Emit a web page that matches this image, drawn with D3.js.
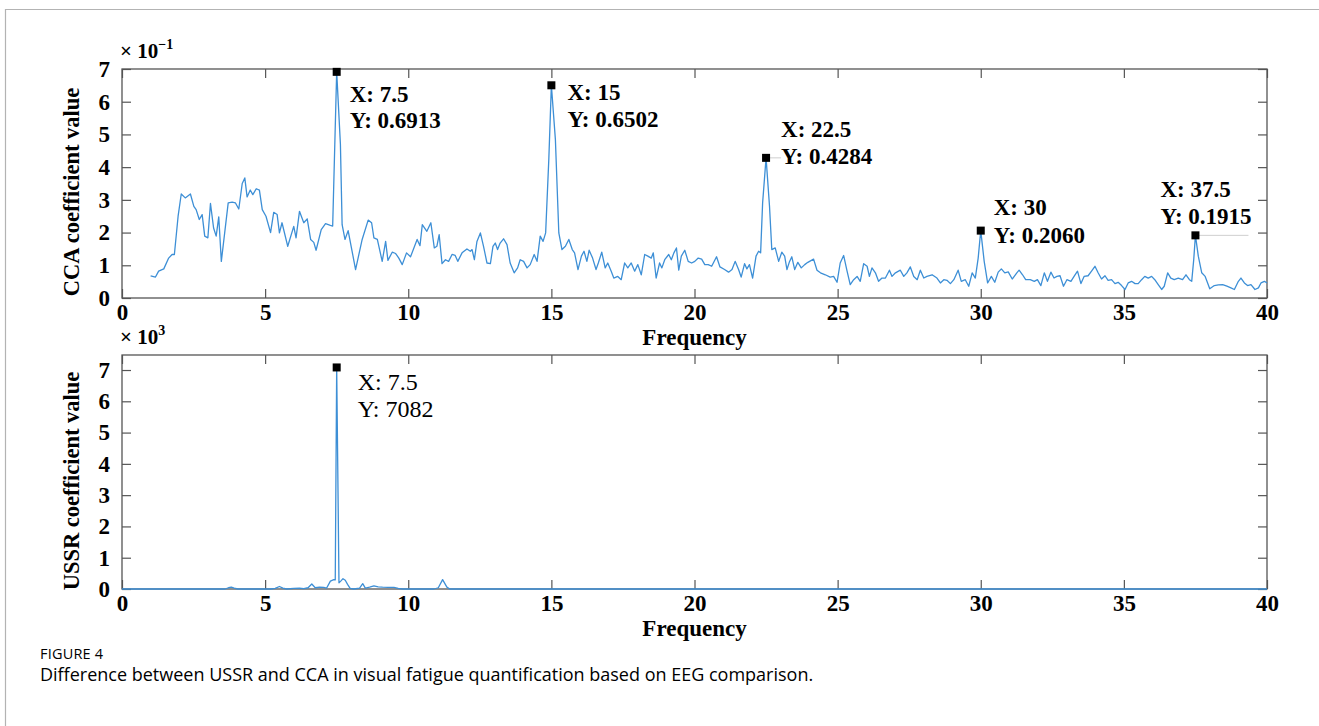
<!DOCTYPE html>
<html>
<head>
<meta charset="utf-8">
<title>USSR vs CCA</title>
<script src="https://d3js.org/d3.v7.min.js"></script>
<style>
  body { margin: 0; background: #fff; }
  svg text { font-family: "Liberation Serif", "Times New Roman", serif; fill: #000; }
  .tick text { font-size: 23px; font-weight: bold; }
  .tick line { stroke: #555; stroke-width: 1.2; }
  .caption text { font-family: "Open Sans", "Noto Sans", sans-serif; }
</style>
</head>
<body>
<svg id="chart" width="1319" height="726"></svg>
<script>
// ---- data ----
const xTicks = [0, 5, 10, 15, 20, 25, 30, 35, 40];
const ccaTicks = [0, 1, 2, 3, 4, 5, 6, 7];              // x 10^-1
const ussrTicks = [0, 1000, 2000, 3000, 4000, 5000, 6000, 7000];

// CCA coefficient (in units of 10^-1) vs frequency
const ccaFreq = [1.0, 1.17, 1.28, 1.46, 1.63, 1.75, 1.83, 1.96, 2.07, 2.21, 2.39, 2.51, 2.59, 2.7, 2.8, 2.89, 3.0, 3.09, 3.2, 3.29,
  3.38, 3.47, 3.71, 3.85, 3.96, 4.08, 4.2, 4.29, 4.37, 4.48, 4.57, 4.69, 4.8, 4.9, 5.03, 5.19, 5.3, 5.42, 5.5, 5.59,
  5.79, 6.0, 6.08, 6.2, 6.35, 6.47, 6.59, 6.7, 6.78, 6.96, 7.11, 7.28, 7.36, 7.5, 7.63, 7.69, 7.79, 7.9, 8.16, 8.39,
  8.6, 8.72, 8.8, 8.92, 9.09, 9.21, 9.29, 9.44, 9.56, 9.67, 9.79, 9.94, 10.08, 10.31, 10.41, 10.49, 10.65, 10.79, 10.91, 11.0,
  11.08, 11.18, 11.3, 11.41, 11.53, 11.64, 11.73, 11.88, 12.05, 12.17, 12.23, 12.31, 12.4, 12.52, 12.63, 12.75, 12.87, 12.96, 13.04, 13.12,
  13.21, 13.33, 13.45, 13.56, 13.7, 13.82, 13.91, 14.03, 14.15, 14.26, 14.4, 14.5, 14.61, 14.71, 14.8, 14.91, 15.0, 15.14, 15.26, 15.37,
  15.49, 15.61, 15.73, 15.81, 15.93, 16.05, 16.14, 16.24, 16.32, 16.44, 16.56, 16.64, 16.76, 16.88, 16.97, 17.09, 17.18, 17.32, 17.44, 17.56,
  17.67, 17.79, 17.91, 18.02, 18.14, 18.26, 18.37, 18.49, 18.56, 18.66, 18.78, 18.86, 18.96, 19.1, 19.19, 19.28, 19.37, 19.45, 19.54, 19.66,
  19.78, 19.9, 20.01, 20.13, 20.25, 20.36, 20.48, 20.6, 20.77, 20.89, 21.05, 21.19, 21.31, 21.42, 21.54, 21.63, 21.75, 21.83, 21.92, 22.03,
  22.15, 22.24, 22.31, 22.38, 22.5, 22.62, 22.7, 22.82, 22.94, 23.05, 23.15, 23.23, 23.31, 23.4, 23.5, 23.61, 23.73, 23.85, 23.96, 24.16,
  24.28, 24.4, 24.57, 24.74, 24.86, 24.98, 25.09, 25.21, 25.33, 25.44, 25.56, 25.68, 25.79, 25.91, 26.03, 26.11, 26.2, 26.32, 26.43, 26.55,
  26.67, 26.81, 26.9, 27.02, 27.19, 27.31, 27.42, 27.54, 27.66, 27.78, 27.89, 28.01, 28.12, 28.3, 28.47, 28.59, 28.71, 28.82, 28.94, 29.06,
  29.21, 29.32, 29.46, 29.58, 29.7, 29.81, 29.91, 30.0, 30.12, 30.24, 30.37, 30.49, 30.61, 30.72, 30.84, 30.96, 31.1, 31.26, 31.34, 31.46,
  31.57, 31.73, 31.87, 31.98, 32.1, 32.22, 32.33, 32.45, 32.56, 32.66, 32.77, 32.89, 33.01, 33.15, 33.26, 33.38, 33.5, 33.61, 33.75, 33.87,
  33.99, 34.1, 34.22, 34.34, 34.45, 34.57, 34.69, 34.8, 34.92, 35.04, 35.15, 35.27, 35.39, 35.5, 35.62, 35.73, 35.85, 35.97, 36.08, 36.2,
  36.32, 36.41, 36.53, 36.64, 36.76, 36.9, 37.05, 37.17, 37.29, 37.37, 37.44, 37.5, 37.6, 37.72, 37.84, 38.0, 38.16, 38.3, 38.45, 38.6,
  38.74, 38.86, 39.0, 39.09, 39.21, 39.32, 39.44, 39.58, 39.7, 39.79, 39.91, 40.0];
const ccaVal = [0.68, 0.64, 0.82, 0.89, 1.22, 1.33, 1.33, 2.5, 3.18, 3.06, 3.18, 2.8, 2.7, 2.4, 2.55, 1.89, 1.84, 2.89, 2.14, 1.89,
  2.48, 1.12, 2.91, 2.93, 2.91, 2.72, 3.5, 3.67, 3.09, 3.3, 3.16, 3.34, 3.3, 2.7, 2.5, 2.0, 2.62, 2.55, 1.99, 2.3,
  1.58, 2.19, 1.84, 2.65, 2.3, 2.42, 1.79, 1.7, 1.46, 2.09, 2.27, 2.22, 2.2, 6.913, 4.7, 2.24, 1.79, 2.06, 0.87, 1.79,
  2.38, 2.3, 1.84, 1.79, 1.12, 1.73, 1.15, 1.4, 1.36, 1.22, 1.02, 1.38, 1.26, 1.79, 1.6, 2.24, 2.04, 2.3, 1.53, 1.58,
  1.94, 1.05, 1.17, 1.12, 1.33, 1.3, 1.12, 1.38, 1.5, 1.43, 1.48, 1.17, 1.73, 1.99, 1.58, 1.07, 1.05, 1.58, 1.68, 1.48,
  1.68, 1.81, 1.63, 1.07, 0.77, 0.92, 1.17, 1.12, 0.92, 1.02, 1.33, 1.12, 1.89, 1.73, 1.99, 4.23, 6.502, 4.85, 1.99, 1.48,
  1.58, 1.79, 1.48, 1.38, 0.87, 1.28, 1.43, 1.12, 1.46, 1.22, 0.87, 1.07, 1.4, 0.92, 1.07, 0.82, 0.61, 0.66, 0.56, 1.07,
  0.92, 1.07, 0.82, 1.02, 0.71, 1.33, 1.28, 1.22, 1.38, 0.61, 1.07, 0.92, 1.17, 1.33, 1.17, 1.38, 1.53, 0.85, 1.28, 1.46,
  1.12, 1.07, 1.12, 1.22, 1.19, 1.02, 1.02, 0.97, 1.26, 0.95, 0.87, 0.79, 0.87, 1.12, 0.87, 0.64, 1.05, 0.89, 1.02, 0.61,
  1.28, 1.43, 1.38, 2.91, 4.284, 2.81, 1.48, 1.53, 1.12, 1.4, 1.28, 0.87, 1.09, 1.26, 0.87, 1.09, 0.92, 1.02, 1.09, 1.19,
  0.85, 0.77, 0.71, 0.64, 0.66, 0.48, 1.07, 1.3, 0.82, 0.41, 0.56, 0.66, 0.51, 1.05, 0.97, 0.66, 0.92, 0.77, 0.51, 0.61,
  0.61, 0.85, 0.66, 0.77, 0.85, 0.66, 0.77, 0.95, 0.66, 0.56, 0.85, 0.61, 0.66, 0.71, 0.61, 0.46, 0.56, 0.54, 0.44, 0.56,
  0.85, 0.51, 0.56, 0.36, 0.77, 0.61, 1.22, 2.06, 1.12, 0.46, 0.66, 0.48, 0.79, 0.89, 0.77, 0.8, 0.58, 0.77, 0.85, 0.71,
  0.56, 0.56, 0.51, 0.56, 0.38, 0.77, 0.51, 0.79, 0.61, 0.66, 0.68, 0.36, 0.56, 0.51, 0.66, 0.82, 0.44, 0.66, 0.68, 0.82,
  0.97, 0.77, 0.58, 0.68, 0.54, 0.56, 0.44, 0.48, 0.38, 0.26, 0.46, 0.51, 0.44, 0.44, 0.56, 0.66, 0.61, 0.66, 0.56, 0.41,
  0.26, 0.36, 0.77, 0.61, 0.56, 0.61, 0.56, 0.71, 0.56, 0.51, 1.17, 1.915, 1.28, 0.77, 0.66, 0.28, 0.38, 0.4, 0.41, 0.36,
  0.31, 0.26, 0.51, 0.61, 0.46, 0.38, 0.41, 0.26, 0.31, 0.46, 0.51, 0.46];

// USSR coefficient vs frequency
const ussrFreq = [0, 3.6, 3.72, 3.82, 3.92, 4.05, 5.2, 5.35, 5.5, 5.62, 5.75, 6.0, 6.2, 6.35, 6.5, 6.63, 6.75, 6.9, 7.05, 7.15,
  7.28, 7.4, 7.45, 7.5, 7.58, 7.65, 7.72, 7.8, 7.88, 7.97, 8.1, 8.3, 8.41, 8.5, 8.65, 8.8, 8.95, 9.1, 9.3, 9.5,
  9.65, 9.8, 10.9, 11.05, 11.2, 11.35, 11.45, 40];
const ussrVal = [0, 0, 40, 60, 30, 0, 0, 20, 80, 30, 0, 20, 30, 15, 40, 160, 40, 60, 50, 30,
  250, 300, 290, 7082, 200, 260, 330, 280, 150, 20, 0, 30, 170, 30, 60, 100, 70, 60, 55, 50,
  20, 0, 0, 40, 300, 60, 0, 0];

// data tips (actual values)
const ccaTips = [{x: 7.5, y: 0.6913}, {x: 15, y: 0.6502}, {x: 22.5, y: 0.4284}, {x: 30, y: 0.2060}, {x: 37.5, y: 0.1915}];
const ussrTips = [{x: 7.5, y: 7082}];

// ---- layout ----
const W = 1319, H = 726;
const left = 122, right = 1267;
const tipOffsets = [[13, 30, 56], [16, 15, 42], [15, -21, 6], [13, -16, 12], [-35, -38, -11]]; // [dx, line1 dy, line2 dy]
const ussrTipOffsets = [[21, 23, 50]];
const lineColor = "#3d8fd6";

const svg = d3.select("#chart");
svg.append("rect").attr("width", W).attr("height", H).attr("fill", "#fff");
svg.append("path").attr("d", `M5.5,${H} V9.5 H${W}`).attr("fill", "none").attr("stroke", "#b3b3b3").attr("stroke-width", 1.2);

const x = d3.scaleLinear().domain([0, 40]).range([left, right]);

function panel(cfg) {
  const y = d3.scaleLinear().domain(cfg.yDomain).range([cfg.bottom, cfg.top]);
  const g = svg.append("g");

  g.append("g").attr("transform", `translate(0,${cfg.bottom})`)
    .call(d3.axisBottom(x).tickValues(xTicks).tickSize(-9).tickPadding(6).tickFormat(d3.format("d")))
    .call(a => a.select(".domain").remove());
  g.append("g").attr("transform", `translate(0,${cfg.top})`)
    .call(d3.axisTop(x).tickValues(xTicks).tickSize(-9).tickFormat(""))
    .call(a => a.select(".domain").remove());
  g.append("g").attr("transform", `translate(${left},0)`)
    .call(d3.axisLeft(y).tickValues(cfg.yTicks).tickSize(-9).tickPadding(12).tickFormat(cfg.yFormat))
    .call(a => a.select(".domain").remove());
  g.append("g").attr("transform", `translate(${right},0)`)
    .call(d3.axisRight(y).tickValues(cfg.yTicks).tickSize(-9).tickFormat(""))
    .call(a => a.select(".domain").remove());
  g.selectAll(".tick line").attr("stroke", "#555");
  g.selectAll(".tick text").attr("fill", "#000");

  g.append("rect")
    .attr("x", left).attr("y", cfg.top)
    .attr("width", right - left).attr("height", cfg.bottom - cfg.top)
    .attr("fill", "none").attr("stroke", "#555").attr("stroke-width", 1.3);

  const line = d3.line().x(d => x(d[0])).y(d => y(d[1]));
  g.append("path")
    .datum(d3.zip(cfg.freq, cfg.val))
    .attr("d", line)
    .attr("fill", "none").attr("stroke", lineColor).attr("stroke-width", 1.3)
    .attr("stroke-linejoin", "round");

  // exponent label
  const ex = g.append("text").attr("x", 120).attr("y", cfg.top - 11)
    .style("font-size", "21px").style("font-weight", "bold");
  ex.append("tspan").text("× 10");
  ex.append("tspan").attr("dy", -9).style("font-size", "14px").text(cfg.exp);

  g.append("text").attr("x", (left + right) / 2).attr("y", cfg.bottom + 47)
    .attr("text-anchor", "middle").style("font-size", "23px").style("font-weight", "bold")
    .text("Frequency");

  g.append("text").attr("transform", `translate(79,${cfg.labelY}) rotate(-90)`)
    .attr("text-anchor", "middle").style("font-size", "22.5px").style("font-weight", "bold")
    .text(cfg.ylabel);

  // data tips
  cfg.tips.forEach((t, i) => {
    const px = x(t.x), py = y(t.y * cfg.tipScale);
    const [dx, d1, d2] = cfg.offsets[i];
    if (cfg.leader && cfg.leader[i]) {
      g.append("line").attr("x1", px).attr("x2", px + cfg.leader[i]).attr("y1", py).attr("y2", py)
        .attr("stroke", "#cfcfcf").attr("stroke-width", 1);
    }
    g.append("rect").attr("x", px - 4).attr("y", py - 4).attr("width", 8).attr("height", 8).attr("fill", "#000");
    const tx = px + dx;
    g.append("text").attr("x", tx).attr("y", py + d1)
      .style("font-size", cfg.tipSize + "px").style("font-weight", cfg.tipWeight)
      .text("X: " + t.x);
    g.append("text").attr("x", tx).attr("y", py + d2)
      .style("font-size", cfg.tipSize + "px").style("font-weight", cfg.tipWeight)
      .text("Y: " + cfg.tipFmt(t.y));
  });
}

panel({
  top: 69, bottom: 298, yDomain: [0, 7], yTicks: ccaTicks, yFormat: d3.format("d"),
  freq: ccaFreq, val: ccaVal, exp: "−1", ylabel: "CCA coefficient value", labelY: 192,
  tips: ccaTips, tipScale: 10, offsets: tipOffsets, tipFmt: d3.format(".4f"),
  tipSize: 23, tipWeight: "bold", leader: [0, 0, 15, 0, 53]
});

panel({
  top: 355, bottom: 589, yDomain: [0, 7480], yTicks: ussrTicks, yFormat: d => d / 1000,
  freq: ussrFreq, val: ussrVal, exp: "3", ylabel: "USSR coefficient value", labelY: 481,
  tips: ussrTips, tipScale: 1, offsets: ussrTipOffsets, tipFmt: d3.format("d"),
  tipSize: 24, tipWeight: "normal"
});

// caption
const cap = svg.append("g").attr("class", "caption");
cap.append("text").attr("x", 40).attr("y", 659).style("font-size", "14.5px").attr("fill", "#666")
  .attr("letter-spacing", 0.2).text("FIGURE 4");
cap.append("text").attr("x", 40).attr("y", 681).style("font-size", "18px").attr("fill", "#555")
  .text("Difference between USSR and CCA in visual fatigue quantification based on EEG comparison.");
</script>
</body>
</html>
